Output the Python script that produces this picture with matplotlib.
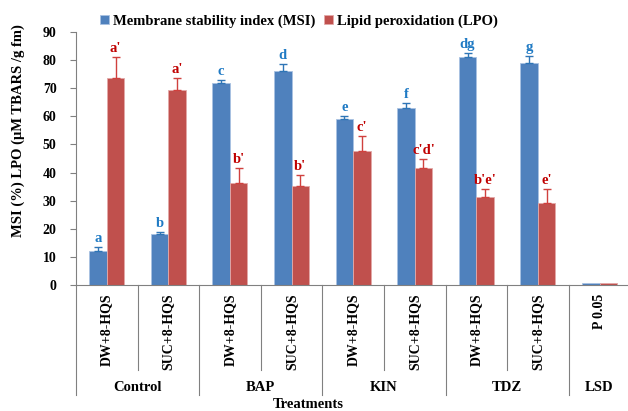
import numpy as np
import matplotlib.pyplot as plt
import matplotlib.transforms as mtransforms

plt.rcParams['font.family'] = ['Liberation Serif', 'DejaVu Serif']
plt.rcParams['font.weight'] = 'bold'

# --- data ---
treatments = ["DW+8-HQS", "SUC+8-HQS", "DW+8-HQS", "SUC+8-HQS",
              "DW+8-HQS", "SUC+8-HQS", "DW+8-HQS", "SUC+8-HQS", "P 0.05"]
groups = ["Control", "BAP", "KIN", "TDZ", "LSD"]
group_sizes = [2, 2, 2, 2, 1]

msi = [12, 18, 72, 76, 59, 63, 81, 79, 0.8]
msi_err = [1.5, 1.0, 1.0, 2.5, 1.2, 1.9, 1.6, 2.5, 0]
msi_letters = ["a", "b", "c", "d", "e", "f", "dg", "g", ""]

lpo = [73.8, 69.2, 36.4, 35.2, 47.8, 41.7, 31.4, 29.2, 0.7]
lpo_err = [7.2, 4.4, 5.1, 3.8, 5.1, 3.2, 2.9, 5.1, 0]
lpo_letters = ["a'", "a'", "b'", "b'", "c'", "c'd'", "b'e'", "e'", ""]

blue = '#4F81BD'
red = '#C0504D'

fig = plt.figure(figsize=(6.28, 4.11), dpi=100)
ax = fig.add_axes([76 / 628, 1 - 285 / 411, 552 / 628, 253 / 411])

x = np.arange(len(treatments)) + 0.5
w = 0.284

ax.bar(x - w / 2, msi, w, color=blue, edgecolor='#A9C2E2', linewidth=0.6,
       label="Membrane stability index (MSI)")
ax.bar(x + w / 2, lpo, w, color=red, edgecolor='#E3A9A8', linewidth=0.6,
       label="Lipid peroxidation (LPO)")

# error bars only on the upper side
ax.errorbar(x[:-1] - w / 2, msi[:-1], yerr=[np.zeros(8), msi_err[:-1]],
            fmt='none', ecolor='#2E75B6', elinewidth=1, capsize=3, capthick=1)
ax.errorbar(x[:-1] + w / 2, lpo[:-1], yerr=[np.zeros(8), lpo_err[:-1]],
            fmt='none', ecolor='#D0413E', elinewidth=1, capsize=3, capthick=1)

for i in range(len(treatments)):
    if msi_letters[i]:
        ax.text(x[i] - w / 2, msi[i] + msi_err[i] + 0.7, msi_letters[i],
                ha='center', va='bottom', color='#1F7AC4', fontsize=10.5, fontweight='bold')
    if lpo_letters[i]:
        ax.text(x[i] + w / 2, lpo[i] + lpo_err[i] + 0.7, lpo_letters[i],
                ha='center', va='bottom', color='#C00000', fontsize=10.5, fontweight='bold')

ax.set_xlim(0, 552 / 61.59)
ax.set_ylim(0, 90)
ax.set_yticks(range(0, 91, 10))
ax.tick_params(axis='y', labelsize=10, length=4, color='#808080', pad=10)
ax.set_xticks(x)
ax.set_xticklabels(treatments, rotation=90, fontsize=10, va='top', ha='center')
ax.tick_params(axis='x', length=0, pad=6)

for s in ['top', 'right']:
    ax.spines[s].set_visible(False)
ax.spines['left'].set_color('#808080')
ax.spines['bottom'].set_color('#808080')

# category separators and group labels below the axis
trans = mtransforms.blended_transform_factory(ax.transData, ax.transAxes)
bounds = np.cumsum([0] + group_sizes)
for b in range(len(treatments) + 1):
    low = -0.435 if b in bounds else -0.336
    ax.plot([b, b], [0, low], transform=trans, color='#808080', lw=0.8, clip_on=False)
for g, name in enumerate(groups):
    ax.text((bounds[g] + bounds[g + 1]) / 2, -0.405, name, transform=trans,
            ha='center', va='center', fontsize=10.5, fontweight='bold')

fig.text(18 / 628, 1 - 131 / 411, "MSI (%) LPO (μM TBARS /g fm)", rotation=90,
         ha='center', va='center', fontsize=10.5, fontweight='bold')
fig.text(308 / 628, 1 - 404 / 411, "Treatments", ha='center', va='center',
         fontsize=10.5, fontweight='bold')

ax.legend(loc='center left', bbox_to_anchor=(24 / 552, (285 - 21) / 253), ncol=2,
          frameon=False, fontsize=10.5, handlelength=0.6, handleheight=0.6,
          handletextpad=0.3, columnspacing=0.6, borderpad=0, borderaxespad=0)

fig.savefig('out.png', dpi=100)
